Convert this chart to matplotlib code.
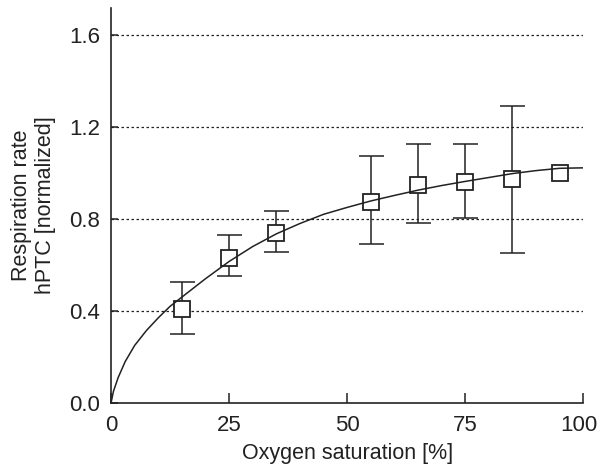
import matplotlib
matplotlib.use("Agg")
import matplotlib.pyplot as plt
import matplotlib.transforms as mtransforms
import numpy as np

plt.rcParams['font.family'] = ['Liberation Sans', 'DejaVu Sans']

# measured points (mean, lower and upper end of error bar)
saturation = [15, 25, 35, 55, 65, 75, 85, 95]
rate = [0.41, 0.63, 0.74, 0.875, 0.948, 0.961, 0.973, 0.998]
err_low = [0.30, 0.55, 0.655, 0.693, 0.783, 0.806, 0.653, np.nan]
err_high = [0.526, 0.73, 0.835, 1.074, 1.126, 1.126, 1.29, np.nan]

# fitted curve
fit_x = [0, 0.5, 1.5, 3, 5, 7.5, 10, 12.5, 15, 17.5, 20, 25, 30, 35, 40, 45, 50,
         55, 60, 65, 70, 75, 80, 85, 90, 95, 100]
fit_y = [0, 0.05, 0.11, 0.18, 0.25, 0.315, 0.37, 0.42, 0.46, 0.50, 0.54, 0.615,
         0.68, 0.735, 0.78, 0.82, 0.85, 0.878, 0.902, 0.925, 0.945, 0.963, 0.98,
         0.997, 1.01, 1.02, 1.022]

x_ticks = [0, 25, 50, 75, 100]
y_ticks = [0.0, 0.4, 0.8, 1.2, 1.6]

ink = "#222222"

fig = plt.figure(figsize=(5.97, 4.68), dpi=100)
ax = fig.add_axes([0.186, 0.139, 0.791, 0.844])

low = np.nan_to_num(np.array(rate) - np.array(err_low))
high = np.nan_to_num(np.array(err_high) - np.array(rate))
has_err = high > 0
ax.errorbar(np.array(saturation)[has_err], np.array(rate)[has_err],
            yerr=[low[has_err], high[has_err]], fmt='none', ecolor=ink,
            elinewidth=1.1, capsize=9, capthick=1.1, zorder=2)
ax.plot(saturation, rate, 's', markerfacecolor='white', markeredgecolor=ink,
        markersize=12, markeredgewidth=1.3, zorder=3)
ax.plot(fit_x, fit_y, color=ink, linewidth=1.1, zorder=4)

for yv in y_ticks[1:]:
    ax.axhline(yv, color=ink, linestyle=(0, (2, 2)), linewidth=0.9, zorder=1)

ax.set_xlim(0, 100)
ax.set_ylim(0, 1.717)
ax.set_xticks(x_ticks)
ax.set_yticks(y_ticks)
ax.set_yticklabels([f"{v:.1f}" for v in y_ticks])

for side in ['top', 'right']:
    ax.spines[side].set_visible(False)
for side in ['left', 'bottom']:
    ax.spines[side].set_color(ink)
    ax.spines[side].set_linewidth(1.2)

ax.tick_params(axis='x', direction='in', length=7, width=1.1, colors=ink, labelsize=16, pad=9)
ax.tick_params(axis='y', direction='in', length=5, width=1.1, colors=ink, labelsize=16, pad=8)

# keep the last x label inside the figure, as in the original
last = ax.get_xticklabels()[-1]
last.set_transform(last.get_transform() + mtransforms.ScaledTranslation(-0.04, 0, fig.dpi_scale_trans))

ax.set_xlabel("Oxygen saturation [%]", fontsize=15.5, color=ink, labelpad=5)
ax.set_ylabel("Respiration rate\nhPTC [normalized]", fontsize=15.5, color=ink, labelpad=9)

fig.savefig("out.png", dpi=100)
